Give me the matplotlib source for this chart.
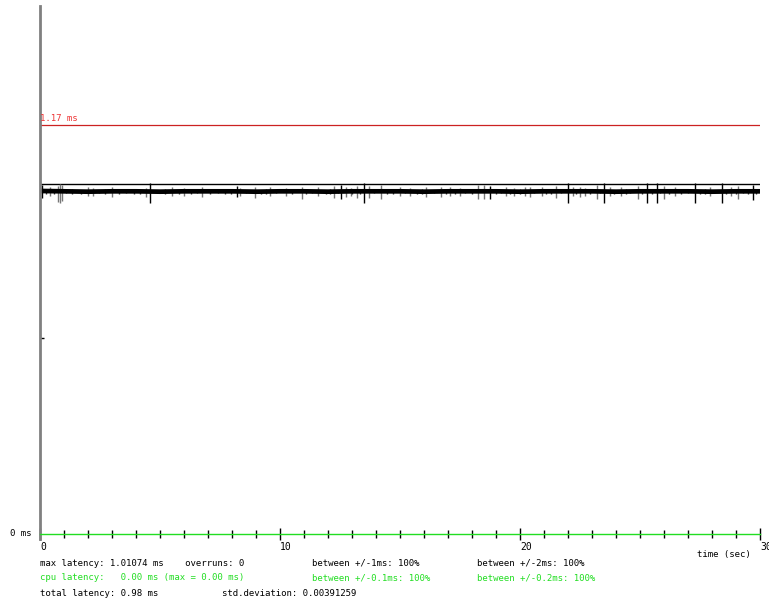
import matplotlib
matplotlib.use("Agg")
import matplotlib.pyplot as plt
import numpy as np

# ---- datos ----
lim_rojo = 1.17          # ms
lim_negro = 1.0          # ms
y_max = 1.51
marca_y = 0.56

# banda principal de latencia (un valor por segundo)
banda_t = list(range(0, 31))
banda_v = [0.981, 0.980, 0.979, 0.980, 0.980, 0.979, 0.980, 0.980, 0.980, 0.979,
           0.980, 0.980, 0.979, 0.980, 0.980, 0.980, 0.979, 0.980, 0.980, 0.980,
           0.979, 0.980, 0.980, 0.980, 0.979, 0.980, 0.980, 0.980, 0.979, 0.980, 0.980]

# picos: tiempo (s), valor alto (ms), valor bajo (ms), negro=1 / gris=0
picos_t = [0.08, 0.42, 0.75, 0.83, 0.92, 2.0, 2.2, 3.0, 4.4, 4.58, 5.5, 6.0, 6.75,
           8.2, 8.33, 8.96, 9.6, 10.25, 10.9, 11.6, 12.25, 12.55, 12.75, 12.96, 13.2,
           13.5, 13.7, 14.2, 15.0, 15.4, 16.1, 16.7, 17.1, 17.5, 18.25, 18.5, 18.75,
           19.4, 19.75, 20.2, 20.4, 20.9, 21.5, 21.98, 22.2, 22.5, 22.7, 23.2, 23.5,
           23.75, 24.2, 24.9, 25.3, 25.7, 26.0, 26.45, 27.3, 27.9, 28.4, 28.8, 29.1, 29.7]
picos_hi = [0.999, 0.992, 0.996, 1.001, 0.997, 0.991, 0.990, 0.991, 0.990, 1.004, 0.991,
            0.990, 0.992, 0.996, 0.990, 0.993, 0.991, 0.990, 0.992, 0.991, 0.994, 0.998,
            0.991, 0.990, 0.996, 1.004, 0.996, 0.997, 0.991, 0.990, 0.991, 0.992, 0.991,
            0.990, 0.998, 0.997, 0.994, 0.991, 0.990, 0.991, 0.992, 0.991, 0.995, 1.004,
            0.991, 0.992, 0.990, 0.998, 1.004, 0.991, 0.991, 0.994, 1.004, 1.003, 0.994,
            0.991, 1.004, 0.991, 1.003, 0.991, 0.996, 0.998]
picos_lo = [0.960, 0.966, 0.950, 0.948, 0.953, 0.966, 0.967, 0.965, 0.964, 0.946, 0.966,
            0.967, 0.963, 0.963, 0.967, 0.962, 0.967, 0.966, 0.958, 0.966, 0.962, 0.957,
            0.965, 0.966, 0.962, 0.946, 0.961, 0.959, 0.966, 0.967, 0.965, 0.963, 0.966,
            0.967, 0.957, 0.958, 0.957, 0.966, 0.967, 0.966, 0.963, 0.966, 0.961, 0.946,
            0.966, 0.963, 0.967, 0.957, 0.946, 0.966, 0.966, 0.958, 0.946, 0.948, 0.958,
            0.966, 0.946, 0.966, 0.948, 0.966, 0.957, 0.955]
picos_negro = [1, 0, 0, 0, 0, 0, 0, 0, 0, 1, 0, 0, 0, 1, 0, 0, 0, 0, 0, 0, 0, 1, 0, 0,
               0, 1, 0, 0, 0, 0, 0, 0, 0, 0, 0, 0, 1, 0, 0, 0, 0, 0, 0, 1, 0, 0, 0, 0,
               1, 0, 0, 0, 1, 1, 0, 0, 1, 0, 1, 0, 0, 1]

# ruido corto dentro de la banda: tiempo (s), semialto (ms)
ruido_t = [0.25, 0.6, 1.1, 1.35, 1.7, 2.45, 2.7, 3.3, 3.6, 3.9, 4.15, 4.9, 5.2, 5.8,
           6.3, 6.55, 7.1, 7.4, 7.7, 7.95, 8.6, 9.2, 9.4, 9.85, 10.5, 11.1, 11.35, 11.9,
           12.1, 12.4, 13.0, 13.35, 13.9, 14.45, 14.7, 15.2, 15.7, 15.9, 16.4, 16.9,
           17.3, 17.7, 18.0, 19.0, 19.2, 19.6, 20.0, 20.6, 21.1, 21.3, 21.7, 22.35,
           22.9, 23.35, 23.9, 24.4, 24.6, 25.1, 25.5, 25.85, 26.2, 26.7, 27.0, 27.5,
           27.7, 28.1, 28.6, 29.0, 29.3, 29.5, 29.85]
ruido_h = [0.006, 0.005, 0.004, 0.006, 0.005, 0.004, 0.006, 0.005, 0.004, 0.006, 0.005,
           0.004, 0.006, 0.005, 0.005, 0.004, 0.006, 0.004, 0.005, 0.006, 0.004, 0.005,
           0.006, 0.004, 0.005, 0.006, 0.004, 0.005, 0.006, 0.004, 0.005, 0.006, 0.004,
           0.005, 0.006, 0.004, 0.005, 0.006, 0.004, 0.005, 0.006, 0.004, 0.005, 0.006,
           0.004, 0.005, 0.006, 0.004, 0.005, 0.006, 0.004, 0.005, 0.006, 0.004, 0.005,
           0.006, 0.004, 0.005, 0.006, 0.004, 0.005, 0.006, 0.004, 0.005, 0.006, 0.004,
           0.005, 0.006, 0.004, 0.005, 0.006]

ticks_mayores = [0, 10, 20, 30]
ticks_menores = list(range(0, 31))

texto_fila1 = [("max latency: 1.01074 ms    overruns: 0", 40),
               ("between +/-1ms: 100%", 312),
               ("between +/-2ms: 100%", 477)]
texto_fila2 = [("cpu latency:   0.00 ms (max = 0.00 ms)", 40),
               ("between +/-0.1ms: 100%", 312),
               ("between +/-0.2ms: 100%", 477)]
texto_fila3 = [("total latency: 0.98 ms", 40),
               ("std.deviation: 0.00391259", 222)]

# ---- figura ----
W, H = 769, 602
fig = plt.figure(figsize=(W / 100, H / 100), dpi=100)
plt.rcParams['font.family'] = ['DejaVu Sans Mono']
fs = 6.5

x0, x1 = 40, 760
y0, y1 = 534, 6
ax = fig.add_axes([x0 / W, 1 - y0 / H, (x1 - x0) / W, (y0 - y1) / H])
ax.set_xlim(0, 30)
ax.set_ylim(0, y_max)
ax.patch.set_alpha(0)

for s in ['top', 'right']:
    ax.spines[s].set_visible(False)
ax.spines['left'].set_color('#808080')
ax.spines['left'].set_linewidth(2)
ax.spines['left'].set_bounds(-0.015, y_max)
ax.spines['bottom'].set_color('#22dd22')
ax.spines['bottom'].set_linewidth(1)

ax.set_xticks(ticks_mayores)
ax.set_xticks(ticks_menores, minor=True)
ax.set_xticklabels([str(t) for t in ticks_mayores], ha='left', fontsize=fs + 0.5)
ax.tick_params(axis='x', which='major', direction='inout', length=9, width=1,
               color='black', pad=1)
ax.tick_params(axis='x', which='minor', direction='inout', length=6, width=1,
               color='black')
ax.set_yticks([marca_y])
ax.set_yticklabels([''])
ax.tick_params(axis='y', direction='in', length=3, width=1, color='black')

# lineas horizontales
ax.axhline(lim_rojo, color='#cc2222', lw=0.9)
ax.axhline(lim_negro, color='black', lw=1)
ax.text(0.02, lim_rojo + 0.004, "1.17 ms", color='#ee3333', fontsize=fs,
        ha='left', va='bottom')

# picos
for t, hi, lo, ng in zip(picos_t, picos_hi, picos_lo, picos_negro):
    ax.vlines(t, lo, hi, color='black' if ng else '#777777', lw=1)

# ruido corto de la banda
for t, h in zip(ruido_t, ruido_h):
    ax.vlines(t, 0.980 - h - 0.002, 0.980 + h, color='#333333', lw=1)

# banda
ax.plot(banda_t, banda_v, color='black', lw=3.4, solid_capstyle='butt')

# textos
fig.text(10 / W, 1 - 534 / H, "0 ms", fontsize=fs, va='center', ha='left')
fig.text(697 / W, 1 - 555 / H, "time (sec)", fontsize=fs, va='center', ha='left')

for fila, y, col in [(texto_fila1, 563, 'black'), (texto_fila2, 578, '#22dd22'),
                     (texto_fila3, 593, 'black')]:
    for txt, x in fila:
        fig.text(x / W, 1 - y / H, txt, fontsize=fs, va='center', ha='left', color=col)

fig.savefig("out.png", dpi=100)
